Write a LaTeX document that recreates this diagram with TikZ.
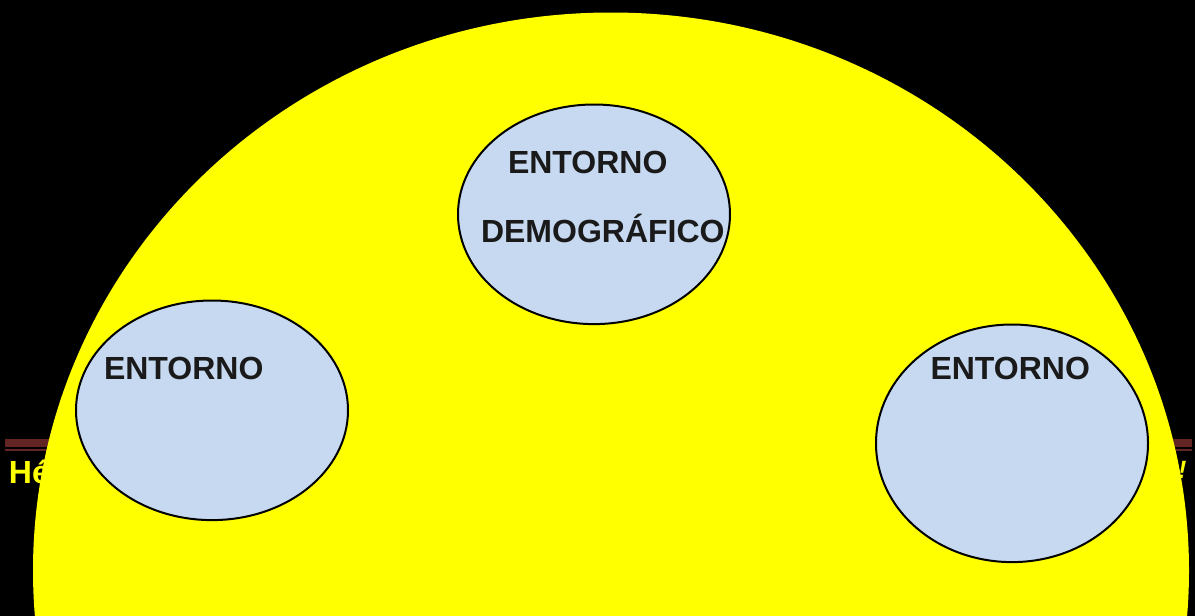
\documentclass[tikz,border=0pt]{standalone}
\usepackage{fontspec}
\setmainfont{Liberation Sans}
\definecolor{bubble}{HTML}{C6D9F1}
\definecolor{ink}{HTML}{1A1A1A}
\definecolor{barred}{HTML}{632523}
\definecolor{sun}{RGB}{255,255,0}
\tikzset{
  bubblestyle/.style={ellipse,draw=black,line width=2pt,fill=bubble,inner sep=0pt,outer sep=0pt},
  lab/.style={inner sep=0pt,outer sep=0pt,anchor=base west,text=ink,font=\fontsize{32}{33}\selectfont\bfseries},
  back/.style={inner sep=0pt,outer sep=0pt,anchor=base west,text=sun,font=\fontsize{32}{33}\selectfont\bfseries},
  backslant/.style={inner sep=0pt,outer sep=0pt,anchor=base west,text=sun,font=\fontsize{25}{26}\selectfont\bfseries\itshape},
  barshape/.style={fill=barred,draw=none}
}
\usetikzlibrary{shapes.geometric}
\begin{document}
\begin{tikzpicture}[x=1pt,y=-1pt]
\useasboundingbox (0,0) rectangle (1195,616);
\fill[black] (0,0) rectangle (1195,616);
\fill[barshape] (5,439) rectangle (1192,447);
\fill[barshape] (5,449) rectangle (1192,451);
\node[back] (hello) at (9,483) {Hé};
\node[backslant] (bang) at (1178,478) {!};
\begin{scope}
\clip (0,0) rectangle (1195,616);
\fill[sun] (611,570.5) ellipse [x radius=578, y radius=558];
\end{scope}
\node[bubblestyle,minimum width=272pt,minimum height=219.6pt] (top) at (594,214.3) {};
\node[bubblestyle,minimum width=272pt,minimum height=219.6pt] (left) at (212,410.3) {};
\node[bubblestyle,minimum width=272pt,minimum height=237.6pt] (right) at (1012,443.3) {};
\node[lab] (t1) at (508,173) {ENTORNO};
\node[lab] (t2) at (481,242) {DEMOGRÁFICO};
\node[lab] (l1) at (104,379) {ENTORNO};
\node[lab] (r1) at (930.5,379) {ENTORNO};
\end{tikzpicture}
\end{document}
